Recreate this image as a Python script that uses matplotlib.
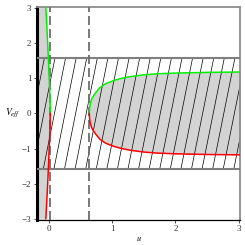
import numpy as np
import matplotlib
matplotlib.use("Agg")
import matplotlib.pyplot as plt

# ------------------ DATA ------------------ #
x_lim = [-0.185, 3.02]
y_lim = [-3.03, 3.03]
band = [-1.58, 1.58]          # hatched band
dashed_x = [0.025, 0.64]      # vertical dashed lines

# left branch, upper half (green); lower half is the mirror (red)
left_u = [-0.045, -0.035, -0.025, -0.015, -0.006, 0.003, 0.012, 0.019, 0.024, 0.026]
left_v = [3.0, 2.65, 2.3, 1.95, 1.6, 1.2, 0.8, 0.45, 0.15, 0.0]

# right branch, upper half (green); lower half is the mirror (red)
right_u = [0.64, 0.645, 0.655, 0.67, 0.69, 0.71, 0.75, 0.81, 0.9, 1.03, 1.15, 1.29, 1.5, 1.71, 2.0, 2.5, 3.02]
right_v = [0.0, 0.15, 0.27, 0.37, 0.45, 0.51, 0.61, 0.74, 0.85, 0.94, 1.0, 1.05, 1.1, 1.13, 1.15, 1.17, 1.18]

x_ticks = [0, 1, 2, 3]
y_ticks = [-3, -2, -1, 0, 1, 2, 3]

# ------------------ FIGURE ------------------ #
plt.rcParams['font.family'] = ['Liberation Serif', 'DejaVu Serif']
plt.rcParams['mathtext.fontset'] = 'stix'
fig = plt.figure(figsize=(2.45, 2.45), dpi=100)
ax = fig.add_axes([0.151, 0.103, 0.829, 0.868])
ax.set_xlim(x_lim)
ax.set_ylim(y_lim)

left_u = np.array(left_u)
left_v = np.array(left_v)
right_u = np.array(right_u)
right_v = np.array(right_v)
grey = "#d3d3d3"

# grey region left of the left branch
lu_full = np.concatenate([left_u, left_u[::-1]])
lv_full = np.concatenate([left_v, -left_v[::-1]])
ax.fill(np.concatenate([[x_lim[0]], lu_full, [x_lim[0]]]),
        np.concatenate([[left_v[0]], lv_full, [-left_v[0]]]),
        color=grey, lw=0, zorder=1)
ax.fill_betweenx([y_lim[0], -left_v[0]], x_lim[0], left_u[0], color=grey, lw=0, zorder=1)
ax.fill_betweenx([left_v[0], y_lim[1]], x_lim[0], left_u[0], color=grey, lw=0, zorder=1)

# grey region between the right branches
ax.fill_between(right_u, -right_v, right_v, color=grey, lw=0, zorder=1)

# hatching of the band (steep "/" lines)
spacing = 0.167
lean = 0.111 * (band[1] - band[0])
for x0 in np.arange(x_lim[0] - lean - 0.05, x_lim[1] + spacing, spacing):
    ax.plot([x0, x0 + lean], band, color="black", lw=0.5, zorder=2, clip_on=True)

for yb in band:
    ax.axhline(yb, color="#7f7f7f", lw=1.5, zorder=3)

for xd in dashed_x:
    ax.axvline(xd, color="#6e6e6e", lw=1.3, ls=(0, (5, 2.2)), zorder=3)

# curves
ax.plot(left_u, left_v, color="#00ee00", lw=1.1, zorder=4)
ax.plot(left_u, -left_v, color="red", lw=1.1, zorder=4)
ax.plot(right_u, right_v, color="#00ee00", lw=1.1, zorder=4)
ax.plot(right_u, -right_v, color="red", lw=1.1, zorder=4)

# ------------------ AXES STYLE ------------------ #
ax.spines['left'].set_linewidth(2.2)
ax.spines['left'].set_color("black")
ax.spines['bottom'].set_linewidth(0.9)
ax.spines['bottom'].set_color("black")
for s in ['top', 'right']:
    ax.spines[s].set_linewidth(1.3)
    ax.spines[s].set_color("#8c8c8c")

ax.set_xticks(x_ticks)
ax.set_yticks(y_ticks)
ax.set_yticklabels([("\u2212%d" % -t) if t < 0 else str(t) for t in y_ticks])
ax.tick_params(direction="out", length=2, width=0.6, labelsize=6.5, pad=2, colors="#333333")

ax.set_xlabel(r"$u$", fontsize=6)
ax.xaxis.set_label_coords(0.5, -0.065)
ax.set_ylabel(r"$V_{eff}$", fontsize=7, rotation=0)
ax.yaxis.set_label_coords(-0.12, 0.47)

fig.savefig("out.png", dpi=100)
